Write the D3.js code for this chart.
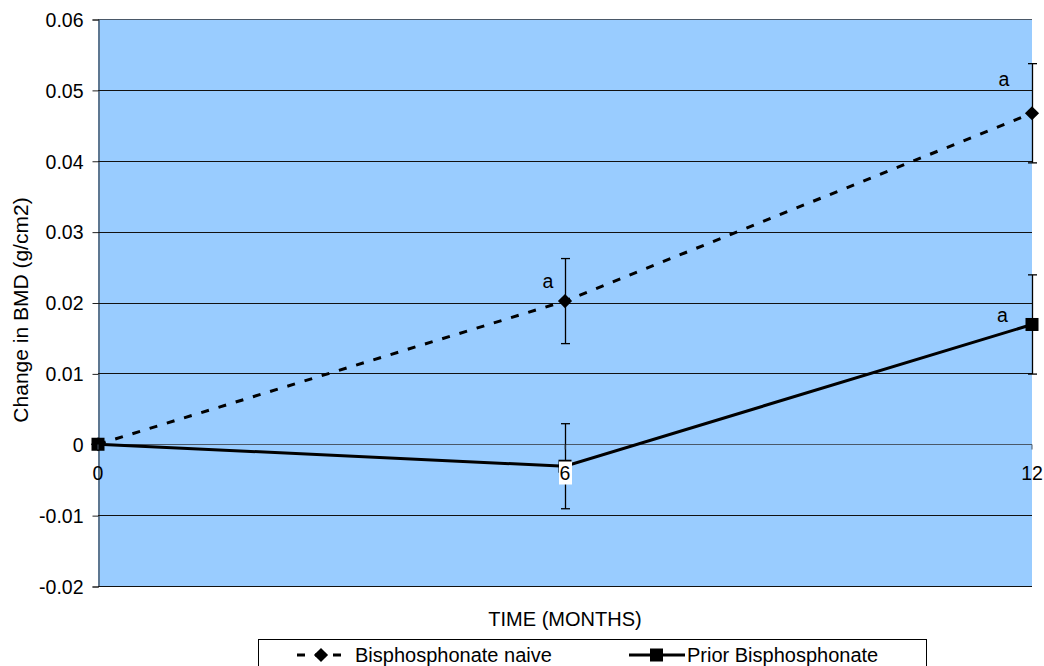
<!DOCTYPE html>
<html>
<head>
<meta charset="utf-8">
<script src="https://cdn.jsdelivr.net/npm/d3@7"></script>
<style>
  html, body { margin: 0; padding: 0; background: #fff; }
  svg { display: block; font-family: "Liberation Sans", Arial, sans-serif; }
</style>
</head>
<body>
<svg id="chart" width="1044" height="666"></svg>
<script>
// Change in BMD over time, two patient groups
const months = [0, 6, 12];
const naiveValues = [0, 0.0202, 0.0467];
const naiveErrors = [0, 0.006, 0.007];
const priorValues = [0, -0.0031, 0.0169];
const priorErrors = [0, 0.006, 0.007];
// significance letters: [month, value] where each letter sits
const letterText = ["a", "a", "a"];
const letterMonth = [5.78, 11.64, 11.62];
const letterValue = [0.0221, 0.0505, 0.0172];
const yTicks = [-0.02, -0.01, 0, 0.01, 0.02, 0.03, 0.04, 0.05, 0.06];
const xTicks = [0, 6, 12];
const seriesNames = ["Bisphosphonate naive", "Prior Bisphosphonate"];

const svg = d3.select("#chart");
const plotLeft = 98, plotRight = 1032, plotTop = 19, plotBottom = 586;
const FONT = 19.5;
const TITLE_FONT = 20;

const x = d3.scaleLinear().domain([0, 12]).range([plotLeft, plotRight]);
const y = d3.scaleLinear().domain([-0.02, 0.06]).range([plotBottom, plotTop]);

// plot background
svg.append("rect")
  .attr("x", plotLeft).attr("y", plotTop)
  .attr("width", plotRight - plotLeft).attr("height", plotBottom - plotTop)
  .attr("fill", "#99CCFF");

// horizontal gridlines
svg.append("g").selectAll("line").data(yTicks).join("line")
  .attr("x1", plotLeft).attr("x2", plotRight)
  .attr("y1", d => Math.round(y(d)) + 0.5).attr("y2", d => Math.round(y(d)) + 0.5)
  .attr("stroke", d => d === 0 || d === 0.06 ? "#4a5868" : "#111").attr("stroke-width", 1);

// y axis
const yAxis = d3.axisLeft(y).tickValues(yTicks).tickSize(6).tickPadding(9)
  .tickFormat(d => d === 0 ? "0" : d.toFixed(2));
const gy = svg.append("g").attr("transform", `translate(${plotLeft + 0.5},0.5)`).call(yAxis);
gy.attr("font-size", null).attr("font-family", null);
gy.select(".domain").attr("stroke", "#222");
gy.selectAll(".tick line").attr("stroke", "#222");
gy.selectAll(".tick text").attr("font-size", FONT).attr("fill", "#000").attr("dy", "0.35em");

// series lines
const line = d3.line().x((d, i) => x(months[i])).y(d => y(d));
svg.append("path").datum(naiveValues).attr("d", line)
  .attr("fill", "none").attr("stroke", "#000").attr("stroke-width", 3)
  .attr("stroke-dasharray", "8,10");
svg.append("path").datum(priorValues).attr("d", line)
  .attr("fill", "none").attr("stroke", "#000").attr("stroke-width", 3);

// error bars
function errorBars(values, errors) {
  const g = svg.append("g").attr("stroke", "#000").attr("stroke-width", 1.3);
  values.forEach((v, i) => {
    if (!errors[i]) return;
    const cx = Math.round(x(months[i])) + 0.5;
    g.append("line").attr("x1", cx).attr("x2", cx)
      .attr("y1", y(v + errors[i])).attr("y2", y(v - errors[i]));
    [v + errors[i], v - errors[i]].forEach(e => {
      g.append("line").attr("x1", cx - 4.5).attr("x2", cx + 4.5)
        .attr("y1", y(e)).attr("y2", y(e));
    });
  });
}
errorBars(naiveValues, naiveErrors);
errorBars(priorValues, priorErrors);

// markers
const diamond = d3.symbol().type(d3.symbolSquare).size(100);
svg.append("g").selectAll("path").data(naiveValues).join("path")
  .attr("d", diamond)
  .attr("transform", (d, i) => `translate(${x(months[i])},${y(d)}) rotate(45)`)
  .attr("fill", "#000");
svg.append("g").selectAll("rect").data(priorValues).join("rect")
  .attr("x", (d, i) => x(months[i]) - 6.5).attr("y", d => y(d) - 6.5)
  .attr("width", 13).attr("height", 13).attr("fill", "#000");

// x axis labels along the zero line, drawn above the series
const gx = svg.append("g").attr("transform", `translate(0,${Math.round(y(0)) + 0.5})`);
const xt = gx.selectAll("g").data(xTicks).join("g")
  .attr("transform", d => `translate(${x(d)},0)`);
xt.append("line").attr("y1", 0).attr("y2", 5).attr("stroke", "#4a5868");
xt.filter(d => d === 6).append("rect")
  .attr("x", -6).attr("y", 17).attr("width", 13).attr("height", 23).attr("fill", "#fff");
xt.append("text").attr("y", 35).attr("text-anchor", "middle")
  .attr("font-size", FONT).text(d => d);

// significance letters
svg.append("g").selectAll("text").data(letterText).join("text")
  .attr("x", (d, i) => x(letterMonth[i]))
  .attr("y", (d, i) => y(letterValue[i]))
  .attr("text-anchor", "middle").attr("font-size", FONT)
  .text(d => d);

// axis titles
svg.append("text").attr("x", (plotLeft + plotRight) / 2).attr("y", 626)
  .attr("text-anchor", "middle").attr("font-size", TITLE_FONT).text("TIME (MONTHS)");
svg.append("text")
  .attr("transform", `translate(28,310) rotate(-90)`)
  .attr("text-anchor", "middle").attr("font-size", 21).text("Change in BMD (g/cm2)");

// legend
const lg = svg.append("g");
lg.append("rect").attr("x", 258.5).attr("y", 639.5).attr("width", 668).attr("height", 40)
  .attr("fill", "#fff").attr("stroke", "#000");
lg.append("line").attr("x1", 297).attr("x2", 344).attr("y1", 655).attr("y2", 655)
  .attr("stroke", "#000").attr("stroke-width", 3).attr("stroke-dasharray", "8,10");
lg.append("path").attr("d", diamond)
  .attr("transform", "translate(321,655) rotate(45)").attr("fill", "#000");
lg.append("text").attr("x", 355).attr("y", 662).attr("font-size", TITLE_FONT).text(seriesNames[0]);
lg.append("line").attr("x1", 629).attr("x2", 685).attr("y1", 655).attr("y2", 655)
  .attr("stroke", "#000").attr("stroke-width", 3);
lg.append("rect").attr("x", 650).attr("y", 648.5).attr("width", 13).attr("height", 13).attr("fill", "#000");
lg.append("text").attr("x", 687).attr("y", 662).attr("font-size", TITLE_FONT).text(seriesNames[1]);
</script>
</body>
</html>
